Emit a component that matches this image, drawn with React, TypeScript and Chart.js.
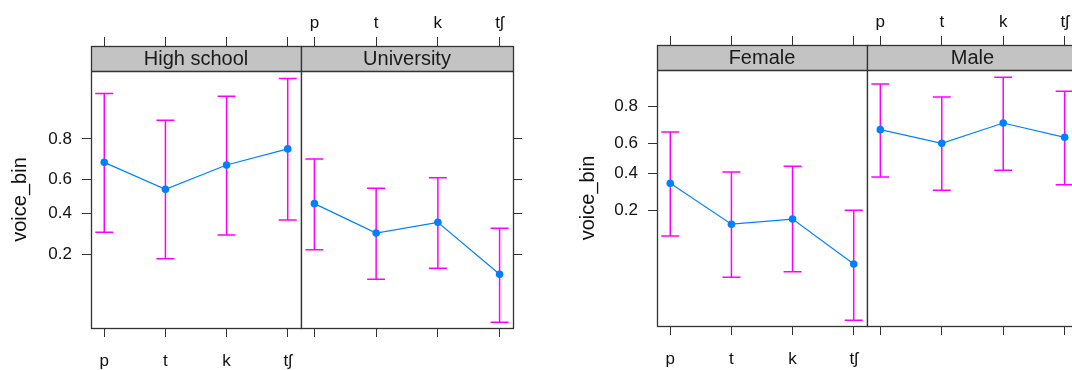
import React, { useEffect, useRef } from "react";
import { Chart, registerables } from "chart.js";

Chart.register(...registerables);
Chart.defaults.font.family = "'Liberation Sans', Arial, sans-serif";

// ---- data (probabilities) ----
const sounds = ["p", "t", "k", "tʃ"];
const yTickProbs = [0.2, 0.4, 0.6, 0.8];

const hsFit = [0.695, 0.543, 0.681, 0.759];
const hsLower = [0.297, 0.182, 0.283, 0.362];
const hsUpper = [0.923, 0.863, 0.918, 0.945];

const uniFit = [0.457, 0.293, 0.349, 0.133];
const uniLower = [0.217, 0.12, 0.151, 0.046];
const uniUpper = [0.712, 0.549, 0.611, 0.317];

const femFit = [0.34, 0.147, 0.165, 0.056];
const femLower = [0.112, 0.04, 0.046, 0.013];
const femUpper = [0.67, 0.411, 0.448, 0.2];

const maleFit = [0.684, 0.6, 0.721, 0.638];
const maleLower = [0.379, 0.299, 0.422, 0.332];
const maleUpper = [0.88, 0.838, 0.898, 0.858];

const logit = (p: number) => Math.log(p / (1 - p));

const STRIP_H = 25;
const LINE = "#333333";
const TXT = "#111111";

type PanelCfg = {
  title: string;
  fit: number[];
  lower: number[];
  upper: number[];
  left: number;
  width: number;
  padLeft: number;
  padRight: number;
  yLeftWidth: number; // 0 = none
  yRightWidth: number; // 0 = none
  showYLabels: boolean;
  showBottomLabels: boolean;
  showTopLabels: boolean;
  top: number;
  bottom: number;
  yMin: number;
  yMax: number;
  yTitle: boolean;
  titleOffset: number;
};

const panels: PanelCfg[] = [
  {
    title: "High school", fit: hsFit, lower: hsLower, upper: hsUpper,
    left: 0, width: 302, padLeft: 0, padRight: 1, yLeftWidth: 91, yRightWidth: 0,
    showYLabels: true, showBottomLabels: true, showTopLabels: false,
    top: 46, bottom: 328, yMin: -3.169, yMax: 3.627, yTitle: true, titleOffset: 71,
  },
  {
    title: "University", fit: uniFit, lower: uniLower, upper: uniUpper,
    left: 300, width: 240, padLeft: 1, padRight: 0, yLeftWidth: 0, yRightWidth: 27,
    showYLabels: false, showBottomLabels: false, showTopLabels: true,
    top: 46, bottom: 328, yMin: -3.169, yMax: 3.627, yTitle: false, titleOffset: 0,
  },
  {
    title: "Female", fit: femFit, lower: femLower, upper: femUpper,
    left: 560, width: 308, padLeft: 0, padRight: 1, yLeftWidth: 97, yRightWidth: 0,
    showYLabels: true, showBottomLabels: true, showTopLabels: false,
    top: 45, bottom: 326, yMin: -4.482, yMax: 3.037, yTitle: true, titleOffset: 69,
  },
  {
    title: "Male", fit: maleFit, lower: maleLower, upper: maleUpper,
    left: 866, width: 240, padLeft: 1, padRight: 0, yLeftWidth: 0, yRightWidth: 28,
    showYLabels: false, showBottomLabels: false, showTopLabels: true,
    top: 45, bottom: 326, yMin: -4.482, yMax: 3.037, yTitle: false, titleOffset: 0,
  },
];

const CANVAS_H = 370;

const zeroPad = (s: any) => {
  s.paddingLeft = 0;
  s.paddingRight = 0;
  s.paddingTop = 0;
  s.paddingBottom = 0;
};

function Panel({ cfg }: { cfg: PanelCfg }) {
  const ref = useRef<HTMLCanvasElement | null>(null);

  useEffect(() => {
    if (!ref.current) return;
    const xTicks = (scale: any) => {
      scale.ticks = sounds.map((_, i) => ({ value: i }));
    };
    const yTicks = (scale: any) => {
      scale.ticks = yTickProbs.map((p) => ({ value: logit(p) }));
    };
    const xLabel = (v: any) => sounds[Math.round(Number(v))] ?? "";
    const yLabel = (v: any) => {
      const p = 1 / (1 + Math.exp(-Number(v)));
      return (Math.round(p * 10) / 10).toFixed(1);
    };

    const grid = {
      drawOnChartArea: false,
      drawTicks: true,
      tickLength: 9,
      color: LINE,
      lineWidth: 1,
    };

    const scales: any = {
      x: {
        type: "linear",
        position: "bottom",
        min: -0.217,
        max: 3.217,
        afterBuildTicks: xTicks,
        afterFit: (s: any) => { s.height = CANVAS_H - cfg.bottom; zeroPad(s); },
        grid,
        border: { display: false },
        ticks: { display: cfg.showBottomLabels, callback: xLabel, color: TXT, font: { size: 17 }, padding: 14, maxRotation: 0 },
      },
      xTop: {
        type: "linear",
        position: "top",
        min: -0.217,
        max: 3.217,
        afterBuildTicks: xTicks,
        afterFit: (s: any) => { s.height = cfg.top; zeroPad(s); },
        grid,
        border: { display: false },
        ticks: { display: cfg.showTopLabels, callback: xLabel, color: TXT, font: { size: 17 }, padding: 3, maxRotation: 0 },
      },
    };
    if (cfg.yLeftWidth > 0) {
      scales.y = {
        type: "linear",
        position: "left",
        min: cfg.yMin,
        max: cfg.yMax,
        afterBuildTicks: yTicks,
        afterFit: (s: any) => { s.width = cfg.yLeftWidth; zeroPad(s); },
        grid,
        border: { display: false },
        ticks: { display: cfg.showYLabels, callback: yLabel, color: TXT, font: { size: 17 }, padding: 10 },
      };
    } else {
      scales.y = {
        type: "linear",
        position: "right",
        min: cfg.yMin,
        max: cfg.yMax,
        afterBuildTicks: yTicks,
        afterFit: (s: any) => { s.width = cfg.yRightWidth; zeroPad(s); },
        grid,
        border: { display: false },
        ticks: { display: false, callback: yLabel },
      };
    }

    const panelPlugin = {
      id: "panelDeco",
      beforeDatasetsDraw(chart: any) {
        const { ctx, chartArea: a } = chart;
        const xs = chart.scales.x;
        const ys = chart.scales.y;
        ctx.save();
        // strip
        ctx.fillStyle = "#c3c3c3";
        ctx.fillRect(a.left, a.top, a.right - a.left, STRIP_H);
        ctx.fillStyle = "#1a1a1a";
        ctx.font = "20px 'Liberation Sans', Arial, sans-serif";
        ctx.textAlign = "center";
        ctx.textBaseline = "middle";
        ctx.fillText(cfg.title, (a.left + a.right) / 2, a.top + STRIP_H / 2 + 1);
        // error bars
        ctx.strokeStyle = "#ff00ff";
        ctx.lineWidth = 1.5;
        for (let i = 0; i < sounds.length; i++) {
          const x = xs.getPixelForValue(i);
          const yl = ys.getPixelForValue(logit(cfg.lower[i]));
          const yu = ys.getPixelForValue(logit(cfg.upper[i]));
          ctx.beginPath();
          ctx.moveTo(x, yl);
          ctx.lineTo(x, yu);
          ctx.moveTo(x - 9, yl);
          ctx.lineTo(x + 9, yl);
          ctx.moveTo(x - 9, yu);
          ctx.lineTo(x + 9, yu);
          ctx.stroke();
        }
        ctx.restore();
      },
      afterDraw(chart: any) {
        const { ctx, chartArea: a } = chart;
        ctx.save();
        ctx.strokeStyle = LINE;
        ctx.lineWidth = 1.3;
        const L = Math.round(a.left) + 0.5;
        const R = Math.round(a.right) + 0.5;
        const T = Math.round(a.top) + 0.5;
        const B = Math.round(a.bottom) + 0.5;
        ctx.strokeRect(L, T, R - L, B - T);
        ctx.beginPath();
        ctx.moveTo(L, T + STRIP_H);
        ctx.lineTo(R, T + STRIP_H);
        ctx.stroke();
        if (cfg.yTitle) {
          ctx.fillStyle = TXT;
          ctx.font = "20px 'Liberation Sans', Arial, sans-serif";
          ctx.textAlign = "center";
          ctx.textBaseline = "middle";
          ctx.translate(a.left - cfg.titleOffset, (a.top + STRIP_H + a.bottom) / 2);
          ctx.rotate(-Math.PI / 2);
          ctx.fillText("voice_bin", 0, 0);
        }
        ctx.restore();
      },
    };

    const chart = new Chart(ref.current, {
      type: "line",
      data: {
        datasets: [
          {
            data: cfg.fit.map((p, i) => ({ x: i, y: logit(p) })),
            borderColor: "#0080ff",
            backgroundColor: "#0080ff",
            borderWidth: 1.2,
            pointRadius: 3.8,
            pointBorderWidth: 0,
            pointBackgroundColor: "#0080ff",
            pointHoverRadius: 3.8,
            fill: false,
            tension: 0,
          },
        ],
      },
      options: {
        animation: false,
        responsive: false,
        devicePixelRatio: 1,
        events: [],
        layout: { autoPadding: false, padding: { left: cfg.padLeft, right: cfg.padRight, top: 0, bottom: 0 } },
        plugins: { legend: { display: false }, tooltip: { enabled: false }, title: { display: false } },
        scales,
      },
      plugins: [panelPlugin],
    });
    return () => chart.destroy();
  }, [cfg]);

  return (
    <canvas
      ref={ref}
      width={cfg.width}
      height={CANVAS_H}
      style={{ position: "absolute", left: cfg.left, top: 0, width: cfg.width, height: CANVAS_H }}
    />
  );
}

export default function App() {
  return (
    <div
      style={{
        position: "absolute",
        left: 0,
        top: 0,
        width: 1072,
        height: CANVAS_H,
        overflow: "hidden",
        background: "#ffffff",
      }}
    >
      {panels.map((p) => (
        <Panel key={p.title} cfg={p} />
      ))}
    </div>
  );
}
